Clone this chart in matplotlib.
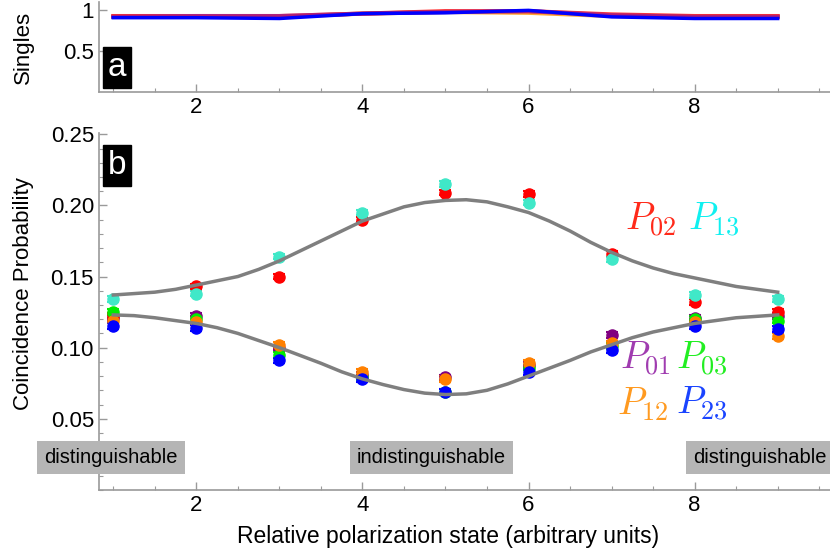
import numpy as np
import matplotlib
matplotlib.use("Agg")
import matplotlib.pyplot as plt
from matplotlib.ticker import MultipleLocator, FixedLocator

plt.rcParams['font.family'] = ['Liberation Sans', 'DejaVu Sans']
plt.rcParams['mathtext.fontset'] = 'cm'

## data
states = [1, 2, 3, 4, 5, 6, 7, 8, 9]

# singles (normalised), top panel
singles_red = [0.93, 0.93, 0.93, 0.96, 0.99, 0.99, 0.95, 0.93, 0.93]
singles_orange = [0.92, 0.92, 0.92, 0.96, 0.98, 0.97, 0.93, 0.92, 0.92]
singles_purple = [0.92, 0.93, 0.93, 0.96, 0.98, 0.99, 0.94, 0.92, 0.92]
singles_blue = [0.91, 0.91, 0.90, 0.96, 0.97, 1.00, 0.92, 0.90, 0.90]

# coincidence probabilities, bottom panel
p01 = [0.121, 0.122, 0.100, 0.081, 0.079, 0.088, 0.109, 0.121, 0.122]
p02 = [0.122, 0.143, 0.150, 0.190, 0.209, 0.208, 0.166, 0.132, 0.125]
p03 = [0.125, 0.120, 0.095, 0.079, 0.069, 0.086, 0.101, 0.120, 0.119]
p12 = [0.119, 0.118, 0.102, 0.083, 0.078, 0.089, 0.103, 0.118, 0.108]
p13 = [0.134, 0.138, 0.164, 0.195, 0.215, 0.202, 0.162, 0.137, 0.134]
p23 = [0.115, 0.114, 0.091, 0.078, 0.069, 0.083, 0.098, 0.115, 0.113]
err = [0.002, 0.002, 0.002, 0.002, 0.002, 0.002, 0.002, 0.002, 0.002]

# fitted curves, read at quarter steps
fit_x = [1.0, 1.25, 1.5, 1.75, 2.0, 2.25, 2.5, 2.75, 3.0, 3.25, 3.5, 3.75,
         4.0, 4.25, 4.5, 4.75, 5.0, 5.25, 5.5, 5.75, 6.0, 6.25, 6.5, 6.75,
         7.0, 7.25, 7.5, 7.75, 8.0, 8.25, 8.5, 8.75, 9.0]
fit_upper = [0.137, 0.138, 0.139, 0.141, 0.144, 0.147, 0.150, 0.155, 0.161,
             0.168, 0.175, 0.182, 0.189, 0.194, 0.199, 0.202, 0.2035, 0.204,
             0.2025, 0.199, 0.195, 0.189, 0.182, 0.174, 0.167, 0.161, 0.156,
             0.152, 0.149, 0.146, 0.143, 0.141, 0.139]
fit_lower = [0.123, 0.1225, 0.121, 0.119, 0.117, 0.114, 0.110, 0.105, 0.100,
             0.0945, 0.089, 0.083, 0.078, 0.074, 0.0705, 0.068, 0.067, 0.0675,
             0.070, 0.0745, 0.080, 0.0855, 0.091, 0.097, 0.102, 0.107, 0.111,
             0.114, 0.117, 0.119, 0.121, 0.122, 0.123]

series = [("01", p01, "#800080", "#a03cb0"),
          ("02", p02, "#ff0000", "#ff2a1a"),
          ("03", p03, "#00ee00", "#22ee22"),
          ("12", p12, "#ff8000", "#ff9a20"),
          ("13", p13, "#40e8c8", "#10f0f0"),
          ("23", p23, "#0000ff", "#1a44ff")]

label_pos = {"02": (7.16, 0.1825), "13": (7.92, 0.1825),
             "01": (7.10, 0.0847), "03": (7.78, 0.0847),
             "12": (7.07, 0.0532), "23": (7.78, 0.0532)}

boxes = [(0.97, "distinguishable"), (4.83, "indistinguishable"), (8.78, "distinguishable")]

axcol = "#9a9a9a"

fig = plt.figure(figsize=(8.3, 5.56), dpi=100)


def style(ax):
    for s in ["top", "right"]:
        ax.spines[s].set_visible(False)
    for s in ["left", "bottom"]:
        ax.spines[s].set_color(axcol)
        ax.spines[s].set_linewidth(1.2)
    ax.tick_params(which="both", direction="in", color=axcol, labelsize=16)
    ax.tick_params(which="major", length=6, width=1)
    ax.tick_params(which="minor", length=3, width=0.8)
    ax.set_xlim(0.825, 9.63)
    ax.xaxis.set_major_locator(FixedLocator([2, 4, 6, 8]))
    ax.xaxis.set_minor_locator(MultipleLocator(0.5))


## a: singles
ax1 = fig.add_axes([0.119, 0.835, 0.881, 0.161])
style(ax1)
ax1.plot(states, singles_orange, color="#ff9000", lw=3, alpha=0.8)
ax1.plot(states, singles_red, color="#ff0000", lw=3, alpha=0.8)
ax1.plot(states, singles_purple, color="#9020a0", lw=3, alpha=0.7)
ax1.plot(states, singles_blue, color="#0000ff", lw=2.5)
ax1.set_ylim(0, 1.1)
ax1.set_yticks([0.5, 1])
ax1.set_yticklabels(["0.5", "1"])
ax1.set_ylabel("Singles", fontsize=16)
ax1.yaxis.set_label_coords(-0.088, 0.5)
ax1.text(0.012, 0.1, "a", transform=ax1.transAxes, fontsize=24, color="white",
         va="bottom", ha="left",
         bbox=dict(boxstyle="square,pad=0.15", fc="black", ec="black"))

## b: coincidences
ax2 = fig.add_axes([0.119, 0.119, 0.881, 0.642])
style(ax2)
ax2.set_ylim(0, 0.251)
ax2.yaxis.set_major_locator(FixedLocator([0.05, 0.10, 0.15, 0.20, 0.25]))
ax2.yaxis.set_minor_locator(MultipleLocator(0.01))
ax2.set_yticklabels(["0.05", "0.10", "0.15", "0.20", "0.25"])

for name, vals, col, tcol in series:
    ax2.errorbar(states, vals, yerr=err, fmt="o", color=col, ms=8,
                 elinewidth=1.5, capsize=4, capthick=1.5, zorder=3)
    lx, ly = label_pos[name]
    ax2.text(lx, ly, r"$P_{%s}$" % name, color=tcol, fontsize=27,
             ha="left", va="baseline")

ax2.plot(fit_x, fit_upper, color="#7f7f7f", lw=2.5, zorder=4)
ax2.plot(fit_x, fit_lower, color="#7f7f7f", lw=2.5, zorder=4)

for bx, btxt in boxes:
    ax2.text(bx, 0.0225, btxt, fontsize=14.5, ha="center", va="center", zorder=5,
             clip_on=False,
             bbox=dict(boxstyle="square,pad=0.35", fc="#b5b5b5", ec="none"))

ax2.text(0.012, 0.953, "b", transform=ax2.transAxes, fontsize=24, color="white",
         va="top", ha="left",
         bbox=dict(boxstyle="square,pad=0.15", fc="black", ec="black"))

ax2.set_ylabel("Coincidence Probability", fontsize=16)
ax2.yaxis.set_label_coords(-0.088, 0.55)
ax2.set_xlabel("Relative polarization state (arbitrary units)", fontsize=16.5)
ax2.xaxis.set_label_coords(0.477, -0.098)

plt.savefig("out.png", dpi=100)
